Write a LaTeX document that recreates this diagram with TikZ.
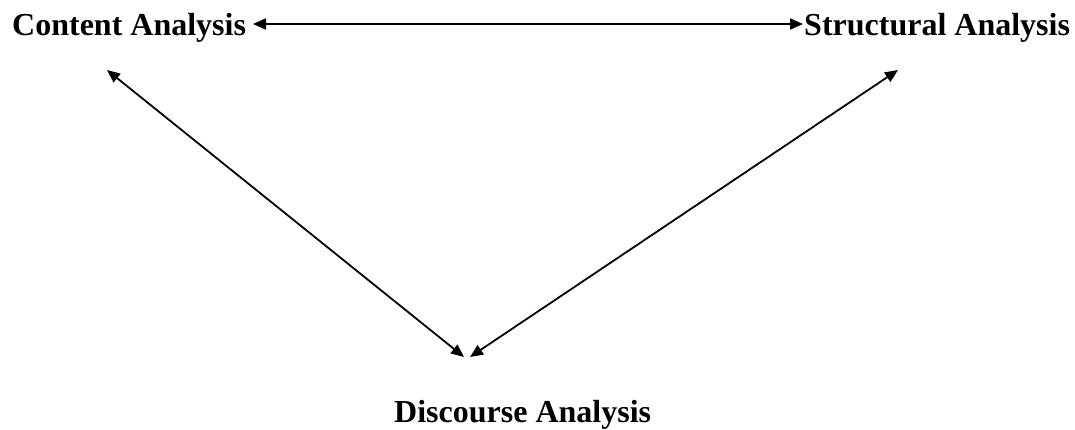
\documentclass[tikz,border=0pt]{standalone}
\usepackage{fontspec}
\setmainfont{Liberation Serif}
\usetikzlibrary{arrows.meta}
\tikzset{
  lbl/.style={font=\fontsize{32}{38}\selectfont\bfseries, inner sep=0pt},
  conn/.style={{Triangle[length=13pt,width=11pt]}-{Triangle[length=13pt,width=11pt]}, line width=1.8pt}
}
\begin{document}
\begin{tikzpicture}[x=1pt,y=-1pt]
\useasboundingbox (0,0) rectangle (1075,430);
\node[lbl, anchor=base west] (ca) at (12,36) {Content Analysis};
\node[lbl, anchor=base west] (sa) at (804,36) {Structural Analysis};
\node[lbl, anchor=base west] (da) at (394,422) {Discourse Analysis};
\coordinate (caE) at (253,24);
\coordinate (saW) at (803,24);
\coordinate (caS) at (107,70);
\coordinate (saS) at (898,70);
\coordinate (daL) at (464,357);
\coordinate (daR) at (470,357);
\draw[conn] (caE) -- (saW);
\draw[conn] (caS) -- (daL);
\draw[conn] (saS) -- (daR);
\end{tikzpicture}
\end{document}
